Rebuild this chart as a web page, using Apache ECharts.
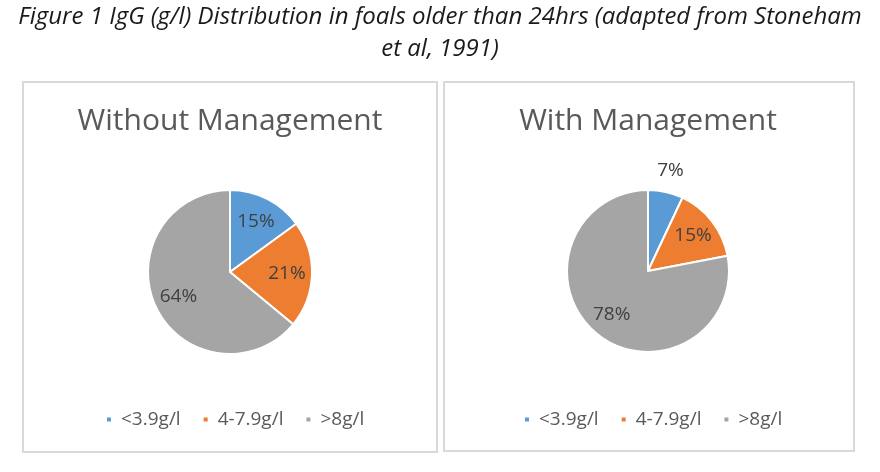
<!DOCTYPE html>
<html>
<head>
    <meta charset="utf-8">
    <title>IgG distribution</title>
    <script src="https://cdn.jsdelivr.net/npm/echarts@6/dist/echarts.min.js"></script>
    <style type="text/css">
        html, body { margin: 0; padding: 0; background: #fff; }
        #main { width: 880px; height: 472px; }
    </style>
</head>
<body>
<div id="main"></div>
<script type="text/javascript">
    // data
    var categories = ['<3.9g/l', '4-7.9g/l', '>8g/l'];
    var withoutMgmt = [15, 21, 64];
    var withMgmt = [7, 15, 78];
    var colors = ['#5B9BD5', '#ED7D31', '#A5A5A5'];

    var font = 'Open Sans';
    var labelStyle = {color: '#404040', fontSize: 19, fontFamily: font, formatter: '{c}%'};

    function pieData(values) {
        return categories.map(function (name, i) {
            return {name: name, value: values[i]};
        });
    }

    // slices drawn here, labels come from the transparent rings below
    function pieSeries(values, center, r) {
        return {
            type: 'pie', center: center, radius: [0, r],
            startAngle: 90, clockwise: true, silent: true,
            itemStyle: {borderColor: '#fff', borderWidth: 2},
            label: {show: false}, labelLine: {show: false},
            emphasis: {disabled: true},
            data: pieData(values)
        };
    }

    // invisible ring: an inside label sits halfway between the two radii
    function labelRing(values, center, radius, shown) {
        return {
            type: 'pie', center: center, radius: radius,
            startAngle: 90, clockwise: true, silent: true,
            itemStyle: {color: 'rgba(0,0,0,0)', borderWidth: 0},
            label: Object.assign({position: 'inside'}, labelStyle),
            labelLine: {show: false},
            emphasis: {disabled: true},
            data: pieData(values).map(function (d, i) {
                d.label = {show: shown[i]};
                return d;
            })
        };
    }

    function legend(left) {
        return {
            left: left, top: 405, orient: 'horizontal',
            icon: 'rect', itemWidth: 6, itemHeight: 6, itemGap: 21,
            selectedMode: false,
            textStyle: {color: '#595959', fontSize: 19, fontFamily: font, padding: [0, 0, 0, 4]},
            data: categories
        };
    }

    var chart = echarts.init(document.getElementById('main'));
    chart.setOption({
        backgroundColor: '#fff',
        color: colors,
        animation: false,
        title: [
            {
                text: 'Figure 1 IgG (g/l) Distribution in foals older than 24hrs (adapted from Stoneham\net al, 1991)',
                left: 440, top: 1, textAlign: 'center', padding: 0,
                textStyle: {fontSize: 24, fontStyle: 'italic', fontWeight: 'normal', fontFamily: font,
                    color: '#1a1a1a', lineHeight: 32}
            },
            {
                text: 'Without Management', left: 230, top: 106, textAlign: 'center', padding: 0,
                textStyle: {fontSize: 30, fontWeight: 'normal', fontFamily: font, color: '#595959'}
            },
            {
                text: 'With Management', left: 648, top: 106, textAlign: 'center', padding: 0,
                textStyle: {fontSize: 30, fontWeight: 'normal', fontFamily: font, color: '#595959'}
            }
        ],
        legend: [legend(100), legend(518)],
        graphic: [
            {type: 'rect', shape: {x: 23, y: 82, width: 414, height: 370},
                style: {fill: 'none', stroke: '#D9D9D9', lineWidth: 2}, silent: true},
            {type: 'rect', shape: {x: 444, y: 82, width: 410, height: 369},
                style: {fill: 'none', stroke: '#D9D9D9', lineWidth: 2}, silent: true}
        ],
        series: [
            pieSeries(withoutMgmt, [230, 272], 82),
            pieSeries(withMgmt, [648, 271], 81),
            labelRing(withoutMgmt, [230, 272], [26, 82], [true, true, true]),
            labelRing(withMgmt, [648, 271], [26, 82], [false, true, true]),
            labelRing(withMgmt, [648, 271], [90, 110], [true, false, false])
        ]
    });
</script>
</body>
</html>
